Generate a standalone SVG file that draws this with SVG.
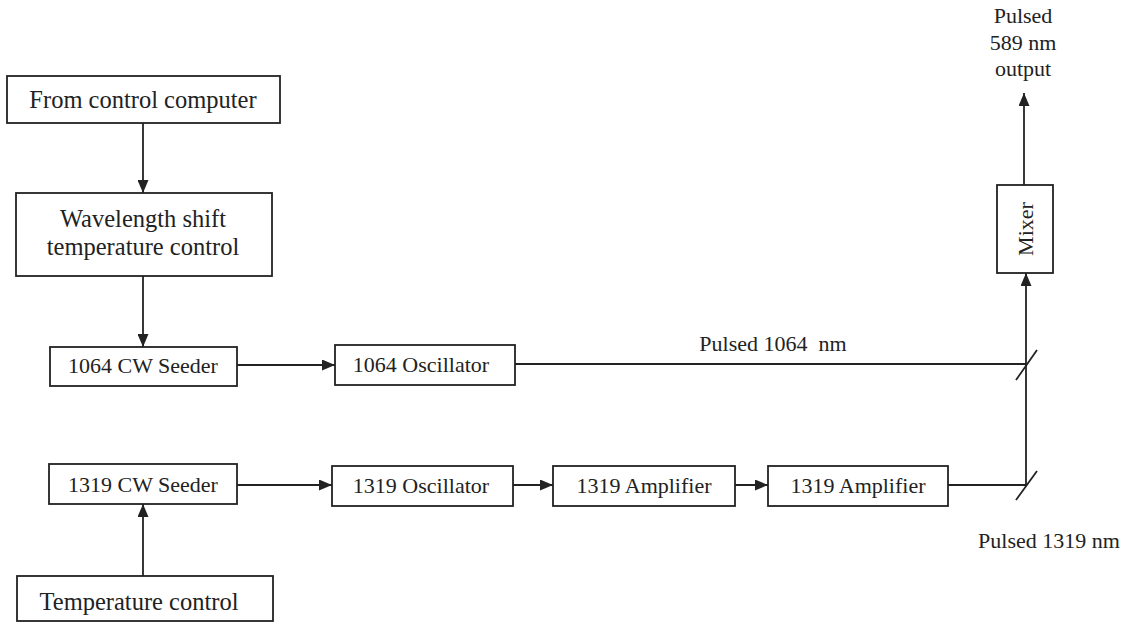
<svg xmlns="http://www.w3.org/2000/svg" width="1121" height="625" viewBox="0 0 1121 625">
<style>
.box{fill:#fff;stroke:#222;stroke-width:1.8}
.t{font-family:"Liberation Serif","Times New Roman",serif;fill:#222;text-anchor:middle}
.lg{font-size:24.5px}
.sm{font-size:22px}
.ln{stroke:#222;stroke-width:1.8;fill:none}
</style>
<defs>
<marker id="ah" viewBox="0 0 13 11" refX="13" refY="5.5" markerWidth="13" markerHeight="11" markerUnits="userSpaceOnUse" orient="auto">
<path d="M0,0 L13,5.5 L0,11 Z" fill="#222"/>
</marker>
</defs>
<g id="connectors">
<line class="ln" x1="143" y1="123" x2="143" y2="193" marker-end="url(#ah)"/>
<line class="ln" x1="143" y1="276" x2="143" y2="347" marker-end="url(#ah)"/>
<line class="ln" x1="237" y1="365" x2="335" y2="365" marker-end="url(#ah)"/>
<line class="ln" x1="515" y1="364" x2="1026" y2="364"/>
<line class="ln" x1="1016" y1="380" x2="1037" y2="350"/>
<line class="ln" x1="143" y1="576" x2="143" y2="504" marker-end="url(#ah)"/>
<line class="ln" x1="237" y1="485" x2="332" y2="485" marker-end="url(#ah)"/>
<line class="ln" x1="513" y1="485" x2="553" y2="485" marker-end="url(#ah)"/>
<line class="ln" x1="735" y1="485" x2="768" y2="485" marker-end="url(#ah)"/>
<polyline class="ln" points="948,485 1026,485 1026,273" marker-end="url(#ah)"/>
<line class="ln" x1="1016" y1="500" x2="1037" y2="471"/>
<line class="ln" x1="1024" y1="185" x2="1024" y2="93" marker-end="url(#ah)"/>
<text class="t sm" x="773" y="351">Pulsed 1064&#160; nm</text>
<text class="t sm" x="1049" y="548">Pulsed 1319 nm</text>
<text class="t sm" x="1023" y="23">Pulsed</text>
<text class="t sm" x="1023" y="50">589 nm</text>
<text class="t sm" x="1023" y="76">output</text>
</g>
<g id="from-control-computer">
<rect class="box" x="7" y="76" width="273" height="47"/>
<text class="t lg" x="143" y="108">From control computer</text>
</g>
<g id="wavelength-shift">
<rect class="box" x="16" y="193" width="256" height="83"/>
<text class="t lg" x="143" y="227">Wavelength shift</text>
<text class="t lg" x="143" y="255">temperature control</text>
</g>
<g id="seeder-1064">
<rect class="box" x="50" y="347" width="187" height="39"/>
<text class="t sm" x="143" y="373">1064 CW Seeder</text>
</g>
<g id="oscillator-1064">
<rect class="box" x="335" y="345" width="180" height="40"/>
<text class="t sm" x="421" y="372">1064 Oscillator</text>
</g>
<g id="seeder-1319">
<rect class="box" x="49" y="464" width="188" height="40"/>
<text class="t sm" x="143" y="492">1319 CW Seeder</text>
</g>
<g id="oscillator-1319">
<rect class="box" x="332" y="466" width="181" height="40"/>
<text class="t sm" x="421" y="493">1319 Oscillator</text>
</g>
<g id="amplifier-1">
<rect class="box" x="553" y="466" width="182" height="40"/>
<text class="t sm" x="644" y="493">1319 Amplifier</text>
</g>
<g id="amplifier-2">
<rect class="box" x="768" y="466" width="180" height="40"/>
<text class="t sm" x="858" y="493">1319 Amplifier</text>
</g>
<g id="temperature-control">
<rect class="box" x="17" y="576" width="256" height="45"/>
<text class="t lg" x="139" y="610">Temperature control</text>
</g>
<g id="mixer">
<rect class="box" x="997" y="185" width="56" height="88"/>
<text class="t sm" transform="translate(1033,229) rotate(-90)">Mixer</text>
</g>
</svg>
